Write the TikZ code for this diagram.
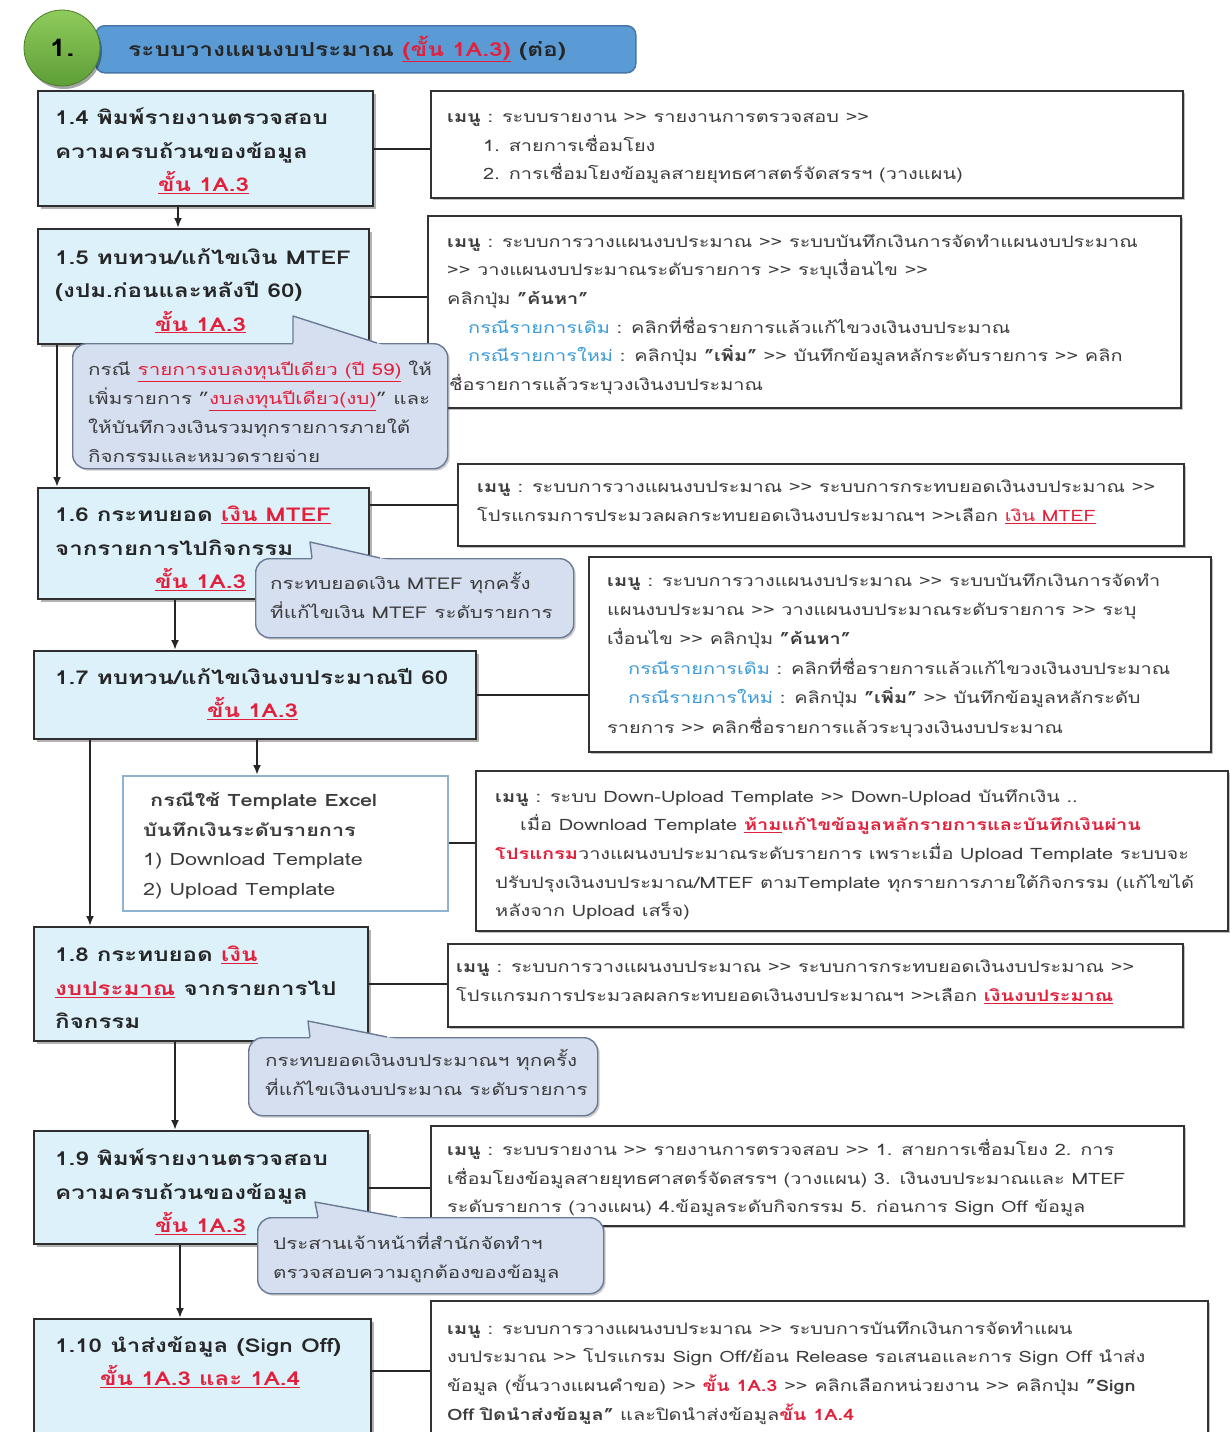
\documentclass[tikz,border=0pt]{standalone}
\usepackage{fontspec}
\setmainfont{Loma}[Script=Thai, FakeStretch=1.27]
\usetikzlibrary{arrows.meta,shadows,calc}

\definecolor{boxfill}{HTML}{DDF1FB}
\definecolor{boxline}{HTML}{2E2E2E}
\definecolor{menuline}{HTML}{333333}
\definecolor{callfill}{HTML}{D6DFF0}
\definecolor{callline}{HTML}{6A7A95}
\definecolor{redc}{HTML}{E3203B}
\definecolor{bluec}{HTML}{3A9AD9}
\definecolor{txtgray}{HTML}{3C3C3C}
\definecolor{hdrfill}{HTML}{5B9BD5}
\definecolor{hdrline}{HTML}{4677A8}
\definecolor{tplline}{HTML}{8DB3D3}
\definecolor{greentop}{HTML}{8FCB5C}
\definecolor{greenbot}{HTML}{5E9E37}

% red underlined stage reference
\newcommand\redul[1]{\textcolor{redc}{\underline{#1}}}
% ">>" kept as two plain characters
\newcommand\arrgt{>\kern0pt>}
\newcommand\mnlabel{\textbf{เมนู} : }
% pointer of a callout: tip, left base, right base
\newcommand\calltail[3]{%
  \fill[callfill] (#1) -- ($(#1)!1.2!(#2)$) -- ($(#1)!1.2!(#3)$) -- cycle;
  \draw[callline, line width=1.4pt, line join=round] (#2) -- (#1) -- (#3);}

\tikzset{
  stepbox/.style={draw=boxline, fill=boxfill, line width=2.4pt, anchor=north west, inner sep=0pt,
    drop shadow={shadow xshift=2.5pt, shadow yshift=-2.5pt, opacity=0.3, fill=black}},
  menubox/.style={draw=menuline, fill=white, line width=2pt, anchor=north west, inner sep=0pt,
    drop shadow={shadow xshift=2pt, shadow yshift=-2pt, opacity=0.25, fill=black}},
  tplbox/.style={draw=tplline, fill=white, line width=1.5pt, anchor=north west, inner sep=0pt},
  callbox/.style={draw=callline, fill=callfill, line width=1.4pt, rounded corners=14pt,
    anchor=north west, inner sep=0pt,
    drop shadow={shadow xshift=2pt, shadow yshift=-2pt, opacity=0.2, fill=black}},
  steptext/.style={anchor=north west, inner sep=0pt, align=left,
    font=\fontsize{19}{33.5}\selectfont\bfseries, text=black!85},
  menutext/.style={anchor=north west, inner sep=0pt, align=left,
    font=\fontsize{15.7}{28.7}\selectfont, text=txtgray},
  calltext/.style={anchor=north west, inner sep=0pt, align=left,
    font=\fontsize{16.2}{29}\selectfont, text=txtgray},
  tpltext/.style={anchor=north west, inner sep=0pt, align=left,
    font=\fontsize{17}{29.5}\selectfont, text=txtgray},
  link/.style={draw=black!85, line width=2pt},
  flow/.style={link, -{Latex[length=10pt,width=8pt]}},
}

\begin{document}
\begin{tikzpicture}[x=1pt,y=-1pt]
\useasboundingbox (0,0) rectangle (1229,1432);
\fill[white] (0,0) rectangle (1229,1432);

% ---- heading bar ----
\node[draw=hdrline, fill=hdrfill, line width=1.5pt, rounded corners=9pt, anchor=north west,
  minimum width=540pt, minimum height=47pt, inner sep=0pt] (hdr) at (95,25) {};
\node[circle, minimum size=76pt, inner sep=0pt, top color=greentop, bottom color=greenbot,
  draw=greenbot!80!black, line width=0.8pt,
  drop shadow={shadow xshift=2pt, shadow yshift=-3pt, opacity=0.35, fill=black},
  font=\fontsize{24}{28}\selectfont\bfseries] (num) at (62,48) {1.};
\node[anchor=west, inner sep=0pt, font=\fontsize{19.3}{22}\selectfont\bfseries, text=black!85]
  (hdrtxt) at (128,49) {ระบบวางแผนงบประมาณ \redul{(ขั้น 1A.3)} (ต่อ)};

% ---- step boxes ----
\node[stepbox, minimum width=335pt, minimum height=115pt] (b14) at (37,90) {};
\node[stepbox, minimum width=331pt, minimum height=115pt] (b15) at (37,228) {};
\node[stepbox, minimum width=331pt, minimum height=111pt] (b16) at (37,487) {};
\node[stepbox, minimum width=442pt, minimum height=88pt] (b17) at (33,650) {};
\node[tplbox, minimum width=325pt, minimum height=135pt] (tpl) at (122,775) {};
\node[stepbox, minimum width=334pt, minimum height=114pt] (b18) at (33,926) {};
\node[stepbox, minimum width=334pt, minimum height=113pt] (b19) at (33,1130) {};
\node[stepbox, minimum width=337pt, minimum height=130pt] (b110) at (33,1318) {};

% ---- menu boxes ----
\node[menubox, minimum width=752pt, minimum height=107pt] (m14) at (430,90) {};
\node[menubox, minimum width=753pt, minimum height=192pt] (m15) at (427,215) {};
\node[menubox, minimum width=726pt, minimum height=82pt] (m16) at (457,463) {};
\node[menubox, minimum width=622pt, minimum height=195pt] (m17) at (588,556) {};
\node[menubox, minimum width=752pt, minimum height=160pt] (mt) at (475,770) {};
\node[menubox, minimum width=735pt, minimum height=83pt] (m18) at (447,943) {};
\node[menubox, minimum width=753pt, minimum height=100pt] (m19) at (430,1125) {};
\node[menubox, minimum width=777pt, minimum height=150pt] (m110) at (430,1300) {};

% ---- flow arrows ----
\draw[flow] ([xshift=141pt]b14.south west) -- ([xshift=141pt]b15.north west);
\draw[flow] ([xshift=20pt]b15.south west) -- ([xshift=20pt]b16.north west);
\draw[flow] ([xshift=138pt]b16.south west) -- ([xshift=138pt]b16.south west |- b17.north);
\draw[flow] ([xshift=224pt]b17.south west) -- ([xshift=224pt]b17.south west |- tpl.north);
\draw[flow] ([xshift=57pt]b17.south west) -- ([xshift=57pt]b18.north west);
\draw[flow] ([xshift=142pt]b18.south west) -- ([xshift=142pt]b19.north west);
\draw[flow] ([xshift=147pt]b19.south west) -- ([xshift=147pt]b110.north west);

% ---- links to the menu boxes ----
\draw[link] (b14.east) -- (b14.east -| m14.west);
\draw[link] ([yshift=-10pt]b15.east) -- ([yshift=-10pt]b15.east -| m15.west);
\draw[link] (m16.west -| b16.east) -- (m16.west);
\draw[link] (b17.east) -- (b17.east -| m17.west);
\draw[link] (tpl.east) -- (tpl.east -| mt.west);
\draw[link] (b18.east) -- (b18.east -| m18.west);
\draw[link] (b19.east) -- (b19.east -| m19.west);
\draw[link] ([yshift=13pt]b110.east) -- ([yshift=13pt]b110.east -| m110.west);

% ---- callouts ----
\node[callbox, minimum width=375pt, minimum height=125pt] (c15) at (72,343) {};
\coordinate (t15) at (293,316); \coordinate (l15) at (293,343); \coordinate (r15) at (377,343);
\calltail{t15}{l15}{r15}
\node[callbox, minimum width=318pt, minimum height=79pt] (c16) at (255,558) {};
\coordinate (t16) at (310,542); \coordinate (l16) at (312,558); \coordinate (r16) at (380,558);
\calltail{t16}{l16}{r16}
\node[callbox, minimum width=349pt, minimum height=78pt] (c18) at (248,1037) {};
\coordinate (t18) at (308,1021); \coordinate (l18) at (310,1037); \coordinate (r18) at (387,1037);
\calltail{t18}{l18}{r18}
\node[callbox, minimum width=346pt, minimum height=76pt] (c19) at (257,1217) {};
\coordinate (t19) at (315,1202); \coordinate (l19) at (318,1217); \coordinate (r19) at (397,1217);
\calltail{t19}{l19}{r19}

% ---- step texts ----
\node[steptext] (s14) at (55,108) {1.4 พิมพ์รายงานตรวจสอบ\\ความครบถ้วนของข้อมูล\\\hspace*{103pt}\redul{ขั้น 1A.3}};
\node[steptext] (s15) at (55,248) {1.5 ทบทวน/แก้ไขเงิน MTEF\\(งปม.ก่อนและหลังปี 60)\\\hspace*{100pt}\redul{ขั้น 1A.3}};
\node[steptext] (s16) at (55,506) {1.6 กระทบยอด \redul{เงิน MTEF}\\จากรายการไปกิจกรรม\\\hspace*{100pt}\redul{ขั้น 1A.3}};
\node[steptext] (s17) at (55,668) {1.7 ทบทวน/แก้ไขเงินงบประมาณปี 60\\\hspace*{152pt}\redul{ขั้น 1A.3}};
\node[steptext] (s18) at (55,946) {1.8 กระทบยอด \redul{เงิน}\\\redul{งบประมาณ} จากรายการไป\\กิจกรรม};
\node[steptext] (s19) at (55,1149) {1.9 พิมพ์รายงานตรวจสอบ\\ความครบถ้วนของข้อมูล\\\hspace*{100pt}\redul{ขั้น 1A.3}};
\node[steptext] (s110) at (55,1336) {1.10 นำส่งข้อมูล (Sign Off)\\\hspace*{45pt}\redul{ขั้น 1A.3 และ 1A.4}};

\node[tpltext] (tplt) at (143,792) {\hspace*{7pt}\textbf{กรณีใช้ Template Excel}\\\textbf{บันทึกเงินระดับรายการ}\\1) Download Template\\2) Upload Template};

% ---- menu texts ----
\node[menutext] (n14) at (447,113) {\mnlabel ระบบรายงาน \arrgt{} รายงานการตรวจสอบ \arrgt\\
\hspace*{36pt}1. สายการเชื่อมโยง\\
\hspace*{36pt}2. การเชื่อมโยงข้อมูลสายยุทธศาสตร์จัดสรรฯ (วางแผน)};
\node[menutext] (n15) at (447,234) {\mnlabel ระบบการวางแผนงบประมาณ \arrgt{} ระบบบันทึกเงินการจัดทำแผนงบประมาณ\\
\arrgt{} วางแผนงบประมาณระดับรายการ \arrgt{} ระบุเงื่อนไข \arrgt\\
คลิกปุ่ม \textbf{"ค้นหา"}\\
\hspace*{21pt}\textcolor{bluec}{กรณีรายการเดิม} : คลิกที่ชื่อรายการแล้วแก้ไขวงเงินงบประมาณ\\
\hspace*{21pt}\textcolor{bluec}{กรณีรายการใหม่} : คลิกปุ่ม \textbf{"เพิ่ม"} \arrgt{} บันทึกข้อมูลหลักระดับรายการ \arrgt{} คลิก\\
\hspace*{2pt}ชื่อรายการแล้วระบุวงเงินงบประมาณ};
\node[menutext] (n16) at (477,480) {\mnlabel ระบบการวางแผนงบประมาณ \arrgt{} ระบบการกระทบยอดเงินงบประมาณ \arrgt\\
โปรแกรมการประมวลผลกระทบยอดเงินงบประมาณฯ \arrgt เลือก \redul{เงิน MTEF}};
\node[menutext, font=\fontsize{15.7}{29.4}\selectfont] (n17) at (607,573) {\mnlabel ระบบการวางแผนงบประมาณ \arrgt{} ระบบบันทึกเงินการจัดทำ\\
แผนงบประมาณ \arrgt{} วางแผนงบประมาณระดับรายการ \arrgt{} ระบุ\\
เงื่อนไข \arrgt{} คลิกปุ่ม \textbf{"ค้นหา"}\\
\hspace*{21pt}\textcolor{bluec}{กรณีรายการเดิม} : คลิกที่ชื่อรายการแล้วแก้ไขวงเงินงบประมาณ\\
\hspace*{21pt}\textcolor{bluec}{กรณีรายการใหม่} : คลิกปุ่ม \textbf{"เพิ่ม"} \arrgt{} บันทึกข้อมูลหลักระดับ\\
รายการ \arrgt{} คลิกชื่อรายการแล้วระบุวงเงินงบประมาณ};
\node[menutext] (nt) at (495,789) {\mnlabel ระบบ Down-Upload Template \arrgt{} Down-Upload บันทึกเงิน ..\\
\hspace*{25pt}เมื่อ Download Template \textcolor{redc}{\textbf{\underline{ห้าม}แก้ไขข้อมูลหลักรายการและบันทึกเงินผ่าน}}\\
\textcolor{redc}{\textbf{โปรแกรม}}วางแผนงบประมาณระดับรายการ เพราะเมื่อ Upload Template ระบบจะ\\
ปรับปรุงเงินงบประมาณ/MTEF ตามTemplate ทุกรายการภายใต้กิจกรรม (แก้ไขได้\\
หลังจาก Upload เสร็จ)};
\node[menutext] (n18) at (456,960) {\mnlabel ระบบการวางแผนงบประมาณ \arrgt{} ระบบการกระทบยอดเงินงบประมาณ \arrgt\\
โปรแกรมการประมวลผลกระทบยอดเงินงบประมาณฯ \arrgt เลือก \redul{\textbf{เงินงบประมาณ}}};
\node[menutext] (n19) at (447,1139) {\mnlabel ระบบรายงาน \arrgt{} รายงานการตรวจสอบ \arrgt{} 1. สายการเชื่อมโยง 2. การ\\
เชื่อมโยงข้อมูลสายยุทธศาสตร์จัดสรรฯ (วางแผน) 3. เงินงบประมาณและ MTEF\\
ระดับรายการ (วางแผน) 4.ข้อมูลระดับกิจกรรม 5. ก่อนการ Sign Off ข้อมูล};
\node[menutext] (n110) at (447,1321) {\mnlabel ระบบการวางแผนงบประมาณ \arrgt{} ระบบการบันทึกเงินการจัดทำแผน\\
งบประมาณ \arrgt{} โปรแกรม Sign Off/ย้อน Release รอเสนอและการ Sign Off นำส่ง\\
ข้อมูล (ขั้นวางแผนคำขอ) \arrgt{} \textcolor{redc}{\textbf{ขั้น 1A.3}} \arrgt{} คลิกเลือกหน่วยงาน \arrgt{} คลิกปุ่ม \textbf{"Sign}\\
\textbf{Off ปิดนำส่งข้อมูล"} และปิดนำส่งข้อมูล\textcolor{redc}{\textbf{ขั้น 1A.4}}};

% ---- callout texts ----
\node[calltext] (k15) at (88,361) {กรณี \redul{รายการงบลงทุนปีเดียว (ปี 59)} ให้\\
เพิ่มรายการ "\redul{งบลงทุนปีเดียว(งบ)}" และ\\
ให้บันทึกวงเงินรวมทุกรายการภายใต้\\
กิจกรรมและหมวดรายจ่าย};
\node[calltext] (k16) at (270,572) {กระทบยอดเงิน MTEF ทุกครั้ง\\ที่แก้ไขเงิน MTEF ระดับรายการ};
\node[calltext] (k18) at (265,1049) {กระทบยอดเงินงบประมาณฯ ทุกครั้ง\\ที่แก้ไขเงินงบประมาณ ระดับรายการ};
\node[calltext] (k19) at (273,1233) {ประสานเจ้าหน้าที่สำนักจัดทำฯ\\ตรวจสอบความถูกต้องของข้อมูล};
\end{tikzpicture}
\end{document}
